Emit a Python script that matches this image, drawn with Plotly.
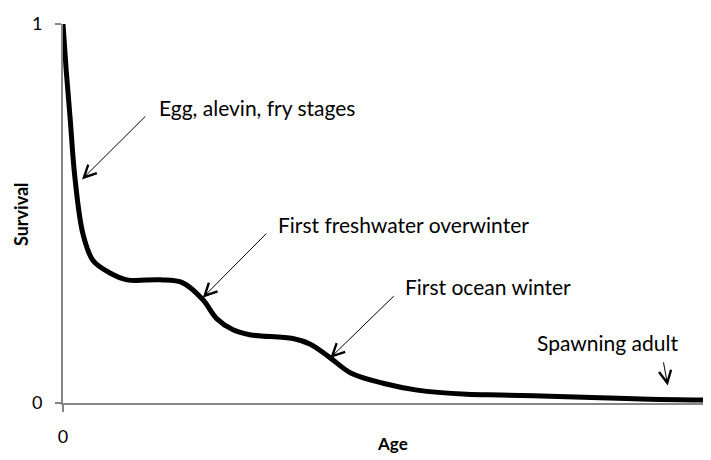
import plotly.graph_objects as go

# Survival curve (age in arbitrary units 0..100, survival 0..1)
age = [0, 0.47, 1.09, 1.86, 3.1, 4.66, 7.3, 9.94, 15.1, 18.6, 21.7, 23.9, 26.4,
       29.0, 35.7, 38.4, 41.5, 44.6, 49.7, 55.0, 62.7, 67.9, 75.6, 83.4, 91.1, 100]
survival = [1.0, 0.884, 0.755, 0.593, 0.446, 0.376, 0.343, 0.325, 0.325, 0.317,
            0.273, 0.222, 0.193, 0.180, 0.170, 0.155, 0.119, 0.080, 0.052, 0.034,
            0.023, 0.021, 0.018, 0.014, 0.010, 0.008]

# Annotation labels and their positions (data units)
labels = ["Egg, alevin, fry stages", "First freshwater overwinter",
          "First ocean winter", "Spawning adult"]
label_x = [14.6, 33.0, 52.8, 73.3]
label_y = [0.780, 0.470, 0.307, 0.159]
arrow_tail_x = [13.0, 31.8, 51.6, 93.2]
arrow_tail_y = [0.760, 0.451, 0.286, 0.111]
arrow_head_x = [2.95, 21.7, 41.5, 93.9]
arrow_head_y = [0.590, 0.278, 0.119, 0.046]

x_ticks = [0]
y_ticks = [0, 1]

FONT = "Lato, 'Open Sans', sans-serif"
AXIS_COLOR = "#868686"

fig = go.Figure()
fig.add_trace(go.Scatter(
    x=age, y=survival, mode="lines",
    line=dict(color="black", width=5, shape="spline", smoothing=1.0),
    showlegend=False, hoverinfo="skip",
))

annotations = []
for t, lx, ly in zip(labels, label_x, label_y):
    annotations.append(dict(
        x=lx, y=ly, xref="x", yref="y", text=t, showarrow=False,
        xanchor="left", yanchor="middle",
        font=dict(family=FONT, size=21, color="black"),
    ))
for tx, ty, hx, hy in zip(arrow_tail_x, arrow_tail_y, arrow_head_x, arrow_head_y):
    annotations.append(dict(
        x=hx, y=hy, xref="x", yref="y", ax=tx, ay=ty, axref="x", ayref="y",
        text="", showarrow=True, arrowhead=5, arrowsize=2.4, arrowwidth=1,
        arrowcolor="black", standoff=0, startstandoff=0,
    ))
# axis titles
annotations.append(dict(
    x=-0.066, y=0.5, xref="paper", yref="paper", text="<b>Survival</b>",
    textangle=-90, showarrow=False, xanchor="center", yanchor="middle",
    font=dict(family=FONT, size=18, color="black"),
))
annotations.append(dict(
    x=0.511, y=-0.108, xref="paper", yref="paper", text="<b>Age</b>",
    showarrow=False, xanchor="center", yanchor="middle",
    font=dict(family=FONT, size=17, color="black"),
))

fig.update_layout(
    width=703, height=452,
    margin=dict(l=55, r=4, t=7, b=57),
    paper_bgcolor="white", plot_bgcolor="white",
    annotations=annotations,
    xaxis=dict(
        range=[0, 100], tickvals=x_ticks, ticktext=["0"],
        showgrid=False, zeroline=False, showline=True,
        linecolor=AXIS_COLOR, linewidth=2,
        ticks="outside", ticklen=7, tickcolor=AXIS_COLOR, tickwidth=2,
        ticklabelstandoff=9, ticklabeloverflow="allow",
        tickfont=dict(family=FONT, size=18, color="black"),
    ),
    yaxis=dict(
        range=[0, 1], tickvals=y_ticks, ticktext=["0", "1"],
        showgrid=False, zeroline=False, showline=True,
        linecolor=AXIS_COLOR, linewidth=2,
        ticks="outside", ticklen=6, tickcolor=AXIS_COLOR, tickwidth=2,
        ticklabelstandoff=9, ticklabeloverflow="allow",
        tickfont=dict(family=FONT, size=18, color="black"),
    ),
)

fig.write_html("out.html")
